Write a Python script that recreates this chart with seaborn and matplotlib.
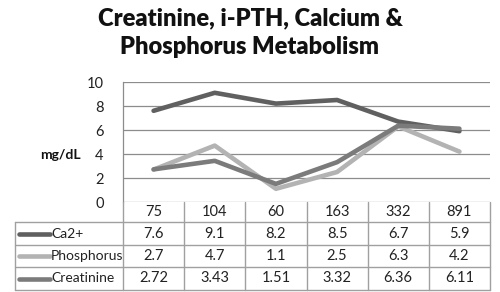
import matplotlib
matplotlib.use("Agg")
import matplotlib.pyplot as plt
import seaborn as sns
import pandas as pd

categories = ["75", "104", "60", "163", "332", "891"]
series_names = ["Ca2+", "Phosphorus", "Creatinine"]
ca = [7.6, 9.1, 8.2, 8.5, 6.7, 5.9]
phos = [2.7, 4.7, 1.1, 2.5, 6.3, 4.2]
creat = [2.72, 3.43, 1.51, 3.32, 6.36, 6.11]
table_text = [["7.6", "9.1", "8.2", "8.5", "6.7", "5.9"],
              ["2.7", "4.7", "1.1", "2.5", "6.3", "4.2"],
              ["2.72", "3.43", "1.51", "3.32", "6.36", "6.11"]]
yticks = [0, 2, 4, 6, 8, 10]
colors = {"Ca2+": "#606060", "Phosphorus": "#b3b3b3", "Creatinine": "#7b7b7b"}

sns.set_theme(style="white")
plt.rcParams['font.family'] = ['Lato', 'DejaVu Sans']

rows = []
for name, vals in zip(series_names, [ca, phos, creat]):
    for i, v in enumerate(vals):
        rows.append({"pos": i, "value": v, "series": name})
df = pd.DataFrame(rows)

W, H = 500, 292
fig = plt.figure(figsize=(W / 100, H / 100), dpi=100)

def px_axes(x0, y0, x1, y1):
    return fig.add_axes([x0 / W, 1 - y1 / H, (x1 - x0) / W, (y1 - y0) / H])

L, R, T, B = 123, 490, 82, 202
ax = px_axes(L, T, R, B)
sns.lineplot(data=df, x="pos", y="value", hue="series", palette=colors,
             hue_order=series_names, linewidth=3.3, ax=ax, legend=False)
ax.set_xlim(-0.5, len(categories) - 0.5)
ax.set_ylim(0, 10)
ax.set_yticks(yticks)
ax.set_yticklabels([str(t) for t in yticks], fontsize=10.5, color="#222222")
ax.tick_params(axis="y", length=0, pad=14)
ax.set_xticks([])
ax.set_xlabel("")
ax.set_ylabel("")
ax.grid(axis="y", color="#8c8c8c", linewidth=0.9)
for s in ["top", "right", "bottom"]:
    ax.spines[s].set_visible(False)
ax.spines["left"].set_color("#8c8c8c")
ax.spines["left"].set_linewidth(0.9)

fig.text(60 / W, 1 - 155 / H, "mg/dL", fontsize=10, fontweight="bold",
         ha="center", va="center", color="#111111")
fig.text(0.5, 1 - 18 / H, "Creatinine, i-PTH, Calcium &", fontsize=17,
         fontweight="heavy", ha="center", va="center", color="#111111")
fig.text(0.5, 1 - 47 / H, "Phosphorus Metabolism", fontsize=17,
         fontweight="heavy", ha="center", va="center", color="#111111")

# data table
TL, TB = 15, 290
tax = px_axes(TL, B, R, TB)
tax.set_xlim(TL, R)
tax.set_ylim(TB, B)
tax.axis("off")
bc = "#a0a0a0"
colw = (R - L) / len(categories)
row_lines = [222, 245, 267, 290]
for yy in row_lines:
    tax.plot([TL, R], [yy, yy], color=bc, linewidth=1, clip_on=False)
tax.plot([TL, TL], [222, 290], color=bc, linewidth=1, clip_on=False)
for k in range(len(categories) + 1):
    xx = L + k * colw
    tax.plot([xx, xx], [B, TB], color=bc, linewidth=1, clip_on=False)
for k, c in enumerate(categories):
    tax.text(L + (k + 0.5) * colw, (B + 222) / 2, c, ha="center", va="center",
             fontsize=10.5, color="#222222")
for r, name in enumerate(series_names):
    yc = (row_lines[r] + row_lines[r + 1]) / 2
    tax.plot([19, 50], [yc, yc], color=colors[name], linewidth=3.3,
             solid_capstyle="round")
    tax.text(51, yc, name, ha="left", va="center", fontsize=10, color="#222222")
    for k, t in enumerate(table_text[r]):
        tax.text(L + (k + 0.5) * colw, yc, t, ha="center", va="center",
                 fontsize=10.5, color="#222222")

fig.savefig("out.png", dpi=100)
